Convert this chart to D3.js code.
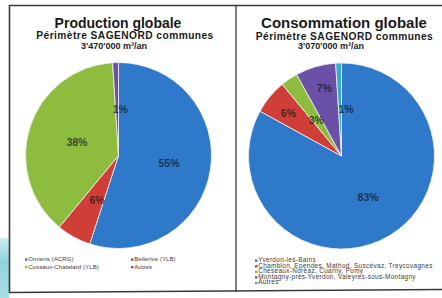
<!DOCTYPE html>
<html>
<head>
<meta charset="utf-8">
<script src="https://cdn.jsdelivr.net/npm/d3@7"></script>
<style>
  html, body { margin: 0; padding: 0; background: #fff; }
  svg { display: block; font-family: "Liberation Sans", Arial, sans-serif; }
</style>
</head>
<body>
<svg id="chart" width="442" height="298"></svg>
<script>
// ---------- DATA ----------
const prodTitle = "Production globale";
const prodSubtitle = "Périmètre SAGENORD communes";
const prodTotal = "3'470'000 m³/an";
const prodCategories = ["Onnens (ACRG)", "Bellerive (YLB)", "Cossaux-Chatelard (YLB)", "Autres"];
const prodValues = [55, 6, 38, 1];

const consTitle = "Consommation globale";
const consSubtitle = "Périmètre SAGENORD communes";
const consTotal = "3'070'000 m³/an";
const consCategories = [
  "Yverdon-les-Bains",
  "Chamblon, Ependes, Mathod, Suscévaz, Treycovagnes",
  "Cheseaux-Noréaz, Cuarny, Pomy",
  "Montagny-près-Yverdon, Valeyres-sous-Montagny",
  "Autres"
];
const consValues = [83, 6, 3, 7, 1];

// ---------- STYLE / LAYOUT ----------
const colors = ["#2f79cb", "#cf3f38", "#8dbc3f", "#6a50a6", "#35a9cf"];
const svg = d3.select("#chart");

// teal artifact at lower-left
const grad = svg.append("defs").append("linearGradient")
  .attr("id", "teal").attr("x1", 0).attr("y1", 0).attr("x2", 0).attr("y2", 1);
grad.append("stop").attr("offset", "0%").attr("stop-color", "#cdeef1");
grad.append("stop").attr("offset", "40%").attr("stop-color", "#8fd3dc");
grad.append("stop").attr("offset", "100%").attr("stop-color", "#a7dde4");
svg.append("rect").attr("x", 0).attr("y", 238).attr("width", 9).attr("height", 60).attr("fill", "url(#teal)");

// frame
const frame = svg.append("g").attr("fill", "none").attr("stroke", "#3a3a3a");
frame.append("line").attr("x1", 9.5).attr("x2", 442).attr("y1", 5.5).attr("y2", 5.5).attr("stroke-width", 1.3);
frame.append("line").attr("x1", 9.5).attr("x2", 9.5).attr("y1", 5).attr("y2", 293).attr("stroke-width", 1.6);
frame.append("line").attr("x1", 236).attr("x2", 236).attr("y1", 5).attr("y2", 292).attr("stroke-width", 1.3);
frame.append("line").attr("x1", 9).attr("x2", 442).attr("y1", 292.5).attr("y2", 289.5).attr("stroke-width", 1.3);

function drawPanel(cfg) {
  const g = svg.append("g");
  // titles
  g.append("text").attr("x", cfg.tx).attr("y", cfg.ty).attr("text-anchor", "middle")
    .attr("font-weight", "bold").attr("font-size", cfg.titleSize).attr("fill", "#1a1a1a").text(cfg.title);
  g.append("text").attr("x", cfg.sx).attr("y", cfg.ty + 11.5).attr("text-anchor", "middle")
    .attr("font-weight", "bold").attr("font-size", 10.2).attr("letter-spacing", 0.45)
    .attr("fill", "#1a1a1a").text(cfg.subtitle);
  g.append("text").attr("x", cfg.vx).attr("y", cfg.ty + 21).attr("text-anchor", "middle")
    .attr("font-weight", "bold").attr("font-size", 9).attr("fill", "#1a1a1a").text(cfg.total);

  const pie = d3.pie().sort(null).value(d => d).startAngle(0).endAngle(2 * Math.PI);
  const arcs = pie(cfg.values);
  const arc = d3.arc().innerRadius(0).outerRadius(cfg.r);
  const pg = g.append("g").attr("transform", `translate(${cfg.cx},${cfg.cy})`);
  pg.selectAll("path").data(arcs).join("path")
    .attr("d", arc)
    .attr("fill", (d, i) => colors[i])
    .attr("stroke", "#f4f4f4").attr("stroke-width", 0.8);

  pg.selectAll("text").data(arcs).join("text")
    .attr("transform", (d, i) => {
      const a = (d.startAngle + d.endAngle) / 2 + cfg.labelShift[i] * Math.PI / 180;
      const rr = cfg.r * cfg.labelR[i];
      return `translate(${rr * Math.sin(a)},${-rr * Math.cos(a)})`;
    })
    .attr("text-anchor", "middle").attr("dy", "0.35em")
    .attr("font-size", 10.5).attr("font-weight", "bold")
    .attr("fill", "#0d1420").attr("fill-opacity", 0.72)
    .text(d => d.data + "%");

  // legend
  const lg = g.append("g").attr("font-size", cfg.legSize).attr("letter-spacing", cfg.legSpacing)
    .attr("fill", "#3a3a3a");
  cfg.categories.forEach((c, i) => {
    const p = cfg.legPos(i);
    lg.append("rect").attr("x", p[0]).attr("y", p[1] - 2.6).attr("width", 2.4).attr("height", 2.4).attr("fill", colors[i]);
    lg.append("text").attr("x", p[0] + 3.2).attr("y", p[1]).text(c);
  });
}

drawPanel({
  title: prodTitle, subtitle: prodSubtitle, total: prodTotal,
  values: prodValues, categories: prodCategories,
  tx: 118, sx: 125, vx: 114, ty: 27.5, titleSize: 14,
  cx: 118.5, cy: 155.5, r: 93,
  labelR: [0.55, 0.53, 0.47, 0.5], labelShift: [0, -3, 0, 4],
  legSize: 6, legSpacing: 0.1, legPos: i => [25 + (i % 2) * 106, 261 + Math.floor(i / 2) * 7.5]
});

drawPanel({
  title: consTitle, subtitle: consSubtitle, total: consTotal,
  values: consValues, categories: consCategories,
  tx: 344, sx: 344.5, vx: 331, ty: 28, titleSize: 15,
  cx: 341.5, cy: 156, r: 93,
  labelR: [0.53, 0.73, 0.47, 0.75, 0.5], labelShift: [-2, -1, -1, 2, 7.5],
  legSize: 6.4, legSpacing: 0.35, legPos: i => [255, 262 + i * 5.6]
});
</script>
</body>
</html>
